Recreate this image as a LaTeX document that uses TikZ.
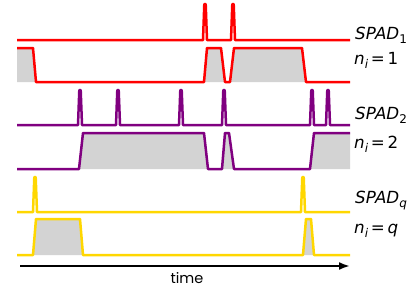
\documentclass[tikz,border=0pt]{standalone}
\usepackage{fontspec}
\newfontfamily\labfont{DejaVu Sans}
\newfontfamily\timefont{Poppins}
\usetikzlibrary{arrows.meta}
\newcommand\subtxt[1]{\raisebox{-0.25em}{\fontsize{12}{13}\selectfont #1}}
\begin{document}
\begin{tikzpicture}[x=1pt,y=-1pt,
  sig/.style={line width=2.5pt,line join=round,line cap=butt},
  redsig/.style={sig,draw={rgb,255:red,255;green,0;blue,0}},
  pursig/.style={sig,draw={rgb,255:red,128;green,0;blue,128}},
  yelsig/.style={sig,draw={rgb,255:red,255;green,215;blue,0}},
  area/.style={fill={rgb,255:red,211;green,211;blue,211}},
  lab/.style={anchor=base west,inner sep=0pt,font=\labfont\fontsize{16.7}{18}\selectfont}]
\useasboundingbox (0,0) rectangle (415,289);
% ---------- SPAD 1 (red)
\fill[area] (17,48) -- (33,48) -- (36,82) -- (204,82) -- (207,48) -- (221,48) -- (225,82) -- (230,82) -- (234,48) -- (302,48) -- (306,82) -- (350,82) -- (17,82) -- cycle;
\draw[redsig] (17,40) -- (203,40) -- (204.3,4) -- (205.7,4) -- (207,40) -- (231,40) -- (232.3,4) -- (233.7,4) -- (235,40) -- (350,40);
\draw[redsig] (17,48) -- (33,48) -- (36,82) -- (204,82) -- (207,48) -- (221,48) -- (225,82) -- (230,82) -- (234,48) -- (302,48) -- (306,82) -- (350,82);
\node[lab] (s1) at (355,39) {\itshape SPAD\subtxt{\upshape 1}};
\node[lab] (n1) at (354,64) {\itshape n\subtxt{i}\upshape\,=\,1};
% ---------- SPAD 2 (purple)
\fill[area] (79,169) -- (83,133) -- (204,133) -- (208,169) -- (222,169) -- (225,133) -- (229,133) -- (234,169) -- (310,169) -- (314,133) -- (350,133) -- (350,169) -- cycle;
\draw[pursig] (17,125)
  -- (78,125) -- (79.3,90) -- (80.7,90) -- (82,125)
  -- (116,125) -- (117.3,90) -- (118.7,90) -- (120,125)
  -- (179,125) -- (180.3,90) -- (181.7,90) -- (183,125)
  -- (222,125) -- (223.3,90) -- (224.7,90) -- (226,125)
  -- (310,125) -- (311.3,90) -- (312.7,90) -- (314,125)
  -- (326,125) -- (327.3,90) -- (328.7,90) -- (330,125)
  -- (350,125);
\draw[pursig] (17,169) -- (79,169) -- (83,133) -- (204,133) -- (208,169) -- (222,169) -- (225,133) -- (229,133) -- (234,169) -- (310,169) -- (314,133) -- (350,133);
\node[lab] (s2) at (355,119) {\itshape SPAD\subtxt{\upshape 2}};
\node[lab] (n2) at (354,148) {\itshape n\subtxt{i}\upshape\,=\,2};
% ---------- SPAD q (yellow)
\fill[area] (33,255) -- (36,219) -- (80,219) -- (83,255) -- cycle;
\fill[area] (303,255) -- (306,219) -- (311,219) -- (314,255) -- cycle;
\draw[yelsig] (17,212) -- (33,212) -- (34.3,177) -- (35.7,177) -- (37,212) -- (301,212) -- (302.3,177) -- (303.7,177) -- (305,212) -- (350,212);
\draw[yelsig] (17,255) -- (33,255) -- (36,219) -- (80,219) -- (83,255) -- (303,255) -- (306,219) -- (311,219) -- (314,255) -- (350,255);
\node[lab] (sq) at (355,203) {\itshape SPAD\subtxt{q}};
\node[lab] (nq) at (354,233) {\itshape n\subtxt{i}\upshape\,=\,\itshape q};
% ---------- time axis
\coordinate (t0) at (20,266);
\coordinate (t1) at (350,266);
\draw[line width=2pt,-{Latex[length=11pt,width=8pt]}] (t0) -- (t1);
\node[anchor=base,inner sep=0pt,font=\timefont\fontsize{14.5}{16}\selectfont] (tl) at (187,283) {time};
\end{tikzpicture}
\end{document}
